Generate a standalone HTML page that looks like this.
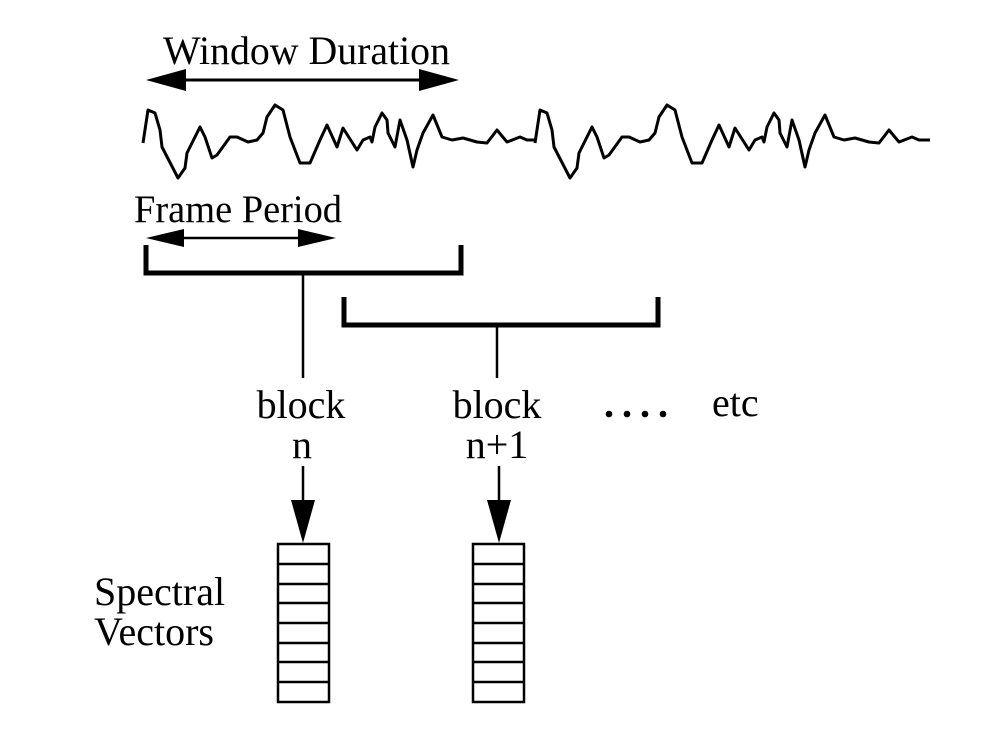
<!DOCTYPE html>
<html><head><meta charset="utf-8"><style>
html,body{margin:0;padding:0;background:#fff;}
svg{display:block;}
text{font-family:"Liberation Serif",serif;fill:#000;}
</style></head><body>
<svg width="1001" height="735" viewBox="0 0 1001 735" xmlns="http://www.w3.org/2000/svg">
<text x="163" y="64" font-size="40" textLength="287" lengthAdjust="spacingAndGlyphs">Window Duration</text>
<line x1="180" y1="80" x2="425" y2="80" stroke="#000" stroke-width="3"/>
<polygon points="146,80 186,69 186,91" fill="#000"/>
<polygon points="459,80 419,69 419,91" fill="#000"/>
<g id="w" fill="none" stroke="#000" stroke-width="3" stroke-linejoin="round">
<polyline points="143,143 148,110 155,113 160,130 162,147 178,178 185,168 187,153 200,127 205,137 212,158 217,155 230,137 237,137 248,142 257,140 263,133 267,117 275,105 283,110 290,137 300,163 310,163 320,140 327,125 337,147 343,128 357,150 363,140 370,137 372,142 375,127 382,113 387,120 388,133 395,147 400,120 407,140 413,167 417,150 423,133 433,115 442,137 452,140 463,138 477,142 487,143 497,130 507,142 520,137 527,140 535,140"/>
<polyline transform="translate(392,0)" points="143,143 148,110 155,113 160,130 162,147 178,178 185,168 187,153 200,127 205,137 212,158 217,155 230,137 237,137 248,142 257,140 263,133 267,117 275,105 283,110 290,137 300,163 310,163 320,140 327,125 337,147 343,128 357,150 363,140 370,137 372,142 375,127 382,113 387,120 388,133 395,147 400,120 407,140 413,167 417,150 423,133 433,115 442,137 452,140 463,138 477,142 487,143 497,130 507,142 520,137 527,140 538,140"/>
</g>
<text x="134" y="222" font-size="39" textLength="208" lengthAdjust="spacingAndGlyphs">Frame Period</text>
<line x1="180" y1="238" x2="305" y2="238" stroke="#000" stroke-width="2.5"/>
<polygon points="146,238 184,229 184,247" fill="#000"/>
<polygon points="336,238 298,229 298,247" fill="#000"/>
<polyline points="146,245 146,273 461,273 461,245" fill="none" stroke="#000" stroke-width="5"/>
<line x1="303" y1="273" x2="303" y2="378" stroke="#000" stroke-width="2.5"/>
<polyline points="344,297 344,325 658,325 658,297" fill="none" stroke="#000" stroke-width="5"/>
<line x1="497" y1="325" x2="497" y2="378" stroke="#000" stroke-width="2.5"/>
<g font-size="40" text-anchor="middle">
<text x="301" y="418">block</text>
<text x="302" y="458">n</text>
<text x="497" y="418">block</text>
<text x="497" y="458">n+1</text>
</g>
<text x="712" y="416" font-size="40">etc</text>
<g fill="#000"><circle cx="609" cy="414" r="3.3"/><circle cx="627" cy="414" r="3.3"/><circle cx="645" cy="414" r="3.3"/><circle cx="663" cy="414" r="3.3"/></g>
<line x1="303" y1="466" x2="303" y2="505" stroke="#000" stroke-width="2.5"/>
<polygon points="303,543 291,500 315,500" fill="#000"/>
<line x1="499" y1="466" x2="499" y2="505" stroke="#000" stroke-width="2.5"/>
<polygon points="499,543 487,500 511,500" fill="#000"/>
<g fill="none" stroke="#000" stroke-width="2.5">
<rect x="278" y="544" width="51" height="158"/>
<path d="M278 564H329M278 584H329M278 603H329M278 623H329M278 643H329M278 662H329M278 682H329"/>
<rect x="473" y="544" width="51" height="158"/>
<path d="M473 564H524M473 584H524M473 603H524M473 623H524M473 643H524M473 662H524M473 682H524"/>
</g>
<text x="94" y="605" font-size="40">Spectral</text>
<text x="94" y="645" font-size="40">Vectors</text>
</svg>
</body></html>
